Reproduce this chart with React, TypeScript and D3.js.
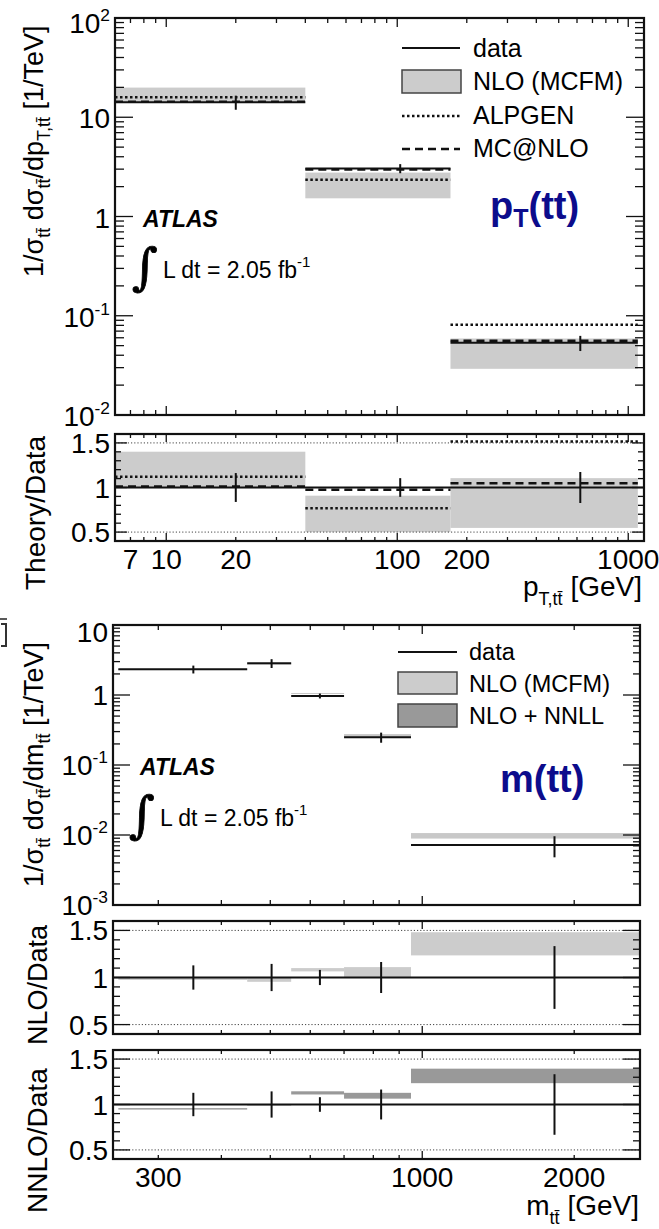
import * as d3 from 'd3';

const FONT = '"Liberation Sans", Arial, Helvetica, sans-serif';
const NAVY = '#0c0c8c';

// ---- p_T(tt) distribution ----
const ptEdges = [6, 40, 170, 1100];
const ptCenters = [20, 103, 620];
const ptData = [14.2, 3.05, 0.0534];
const ptDataErr = [2.3, 0.32, 0.0093];
const ptNloLo = [14.1, 1.525, 0.0292];
const ptNloHi = [19.9, 2.77, 0.059];
const ptAlpgen = [15.9, 2.34, 0.081];
const ptMcatnlo = [14.35, 2.97, 0.056];
const ptTickLabels = [7, 10, 20, 100, 200, 1000];

// ---- m(tt) distribution ----
const mEdges = [250, 450, 550, 700, 950, 2700];
const mCenters = [352, 503, 627, 829, 1828];
const mData = [2.33, 2.84, 0.97, 0.249, 0.0072];
const mDataErr = [0.3, 0.41, 0.078, 0.041, 0.0024];
const mNloLo = [2.27, 2.71, 1.033, 0.249, 0.00889];
const mNloHi = [2.33, 2.84, 1.067, 0.2765, 0.01066];
const mNnllLo = [2.2, 2.81, 1.077, 0.265, 0.00889];
const mNnllHi = [2.237, 2.84, 1.111, 0.281, 0.01004];
const mTickLabels = [300, 1000, 2000];

const ratioTickLabels = [0.5, 1, 1.5];

// scales
const ptX = d3.scaleLog().domain([6, 1170]).range([115, 644]);
const ptMainY = d3.scaleLog().domain([0.01, 100]).range([415, 18]);
const ptRatioY = d3.scaleLinear().domain([0.4, 1.6]).range([541, 434]);

const mX = d3.scaleLog().domain([244, 2700]).range([113, 640]);
const mMainY = d3.scaleLog().domain([0.001, 10]).range([905, 625]);
const mNloY = d3.scaleLinear().domain([0.4, 1.6]).range([1034, 921]);
const mNnloY = d3.scaleLinear().domain([0.4, 1.6]).range([1159, 1050]);

const isDecade = (v: number) => Math.abs(Math.log10(v) - Math.round(Math.log10(v))) < 1e-6;
const ratioTicks = d3.range(4, 17).map((i) => i / 10);
const isHalf = (v: number) => Math.abs(v * 2 - Math.round(v * 2)) < 1e-6;

const Frame = ({ x, y, xTicks, yTicks, xMajor, yMajor, xLen, yLen }: any) => {
  const [x0, x1] = x.range();
  const [y1, y0] = y.range();
  const xd = x.domain();
  const yd = y.domain();
  const inside = (v: number, d: number[]) => v > d[0] * 1.0001 && v < d[1] * 0.9999;
  return (
    <g stroke="#111" fill="none">
      {xTicks.filter((t: number) => inside(t, xd)).map((t: number, i: number) => {
        const L = xMajor(t) ? xLen[0] : xLen[1];
        const px = x(t);
        return (
          <g key={'x' + i} strokeWidth={1.3}>
            <line x1={px} x2={px} y1={y1} y2={y1 - L} />
            <line x1={px} x2={px} y1={y0} y2={y0 + L} />
          </g>
        );
      })}
      {yTicks.filter((t: number) => inside(t, yd)).map((t: number, i: number) => {
        const L = yMajor(t) ? yLen[0] : yLen[1];
        const py = y(t);
        return (
          <g key={'y' + i} strokeWidth={1.3}>
            <line x1={x0} x2={x0 + L} y1={py} y2={py} />
            <line x1={x1} x2={x1 - L} y1={py} y2={py} />
          </g>
        );
      })}
      <rect x={x0} y={y0} width={x1 - x0} height={y1 - y0} strokeWidth={2.2} />
    </g>
  );
};

const PowLabel = ({ v, x, y, size }: any) => {
  const e = Math.round(Math.log10(v));
  if (e === 0 || e === 1)
    return (
      <text x={x} y={y} textAnchor="end" fontSize={size}>
        {e === 0 ? '1' : '10'}
      </text>
    );
  return (
    <text x={x} y={y} textAnchor="end" fontSize={size}>
      10
      <tspan dy={-size * 0.42} fontSize={size * 0.62}>
        {e}
      </tspan>
    </text>
  );
};

const Bands = ({ x, y, edges, lo, hi, fill }: any) => (
  <g fill={fill} stroke="none">
    {lo.map((l: number, i: number) => {
      const xa = x(Math.max(edges[i], x.domain()[0]));
      const xb = x(Math.min(edges[i + 1], x.domain()[1]));
      const [d0, d1] = y.domain();
      const ya = y(Math.min(Math.max(hi[i], d0), d1));
      const yb = y(Math.min(Math.max(l, d0), d1));
      return <rect key={i} x={xa} y={ya} width={xb - xa} height={Math.max(yb - ya, 0)} />;
    })}
  </g>
);

const Steps = ({ x, y, edges, vals, dash, width }: any) => (
  <g stroke="#111" strokeWidth={width} strokeDasharray={dash}>
    {vals.map((v: number, i: number) => (
      <line key={i} x1={x(edges[i])} x2={x(Math.min(edges[i + 1], x.domain()[1]))} y1={y(v)} y2={y(v)} />
    ))}
  </g>
);

const ErrBars = ({ x, y, centers, vals, errs }: any) => (
  <g stroke="#111" strokeWidth={2}>
    {vals.map((v: number, i: number) => (
      <line key={i} x1={x(centers[i])} x2={x(centers[i])} y1={y(v - errs[i])} y2={y(v + errs[i])} />
    ))}
  </g>
);

const RefLines = ({ x, y }: any) => (
  <g stroke="#444" strokeWidth={1} strokeDasharray="1.2,2">
    {[0.5, 1.5].map((v) => (
      <line key={v} x1={x.range()[0]} x2={x.range()[1]} y1={y(v)} y2={y(v)} />
    ))}
  </g>
);

const RatioLabels = ({ y, xr }: any) => (
  <g>
    {ratioTickLabels.map((v) => (
      <text key={v} x={xr} y={y(v) + 10} textAnchor="end" fontSize={28}>
        {v}
      </text>
    ))}
  </g>
);

const Sub = ({ children, dy, size }: any) => (
  <tspan dy={dy} fontSize={size}>
    {children}
  </tspan>
);

// ATLAS label + luminosity, anchored at the ATLAS baseline
const AtlasLabel = ({ x, y }: any) => (
  <g>
    <text x={x} y={y} fontSize={23} fontWeight="bold" fontStyle="italic">ATLAS</text>
    <text
      x={x - 11}
      y={y + 57}
      fontSize={50}
      fontFamily='"DejaVu Serif", "Liberation Serif", serif'
      stroke="#000"
      strokeWidth={0.8}
    >
      ∫
    </text>
    <text x={x + 20} y={y + 51} fontSize={23}>
      L dt = 2.05 fb<tspan dy={-11} fontSize={15}>-1</tspan>
    </text>
  </g>
);

const App = () => {
  const ptLogTicks = ptX.ticks();
  const ptYTicks = ptMainY.ticks();
  const mLogTicks = mX.ticks();
  const mYTicks = mMainY.ticks();
  const ptRel = ptData.map((v, i) => ptDataErr[i] / v);
  const mRel = mData.map((v, i) => mDataErr[i] / v);
  const ones3 = ptData.map(() => 1);
  const ones5 = mData.map(() => 1);
  const TT = 't\u0074\u0304';

  return (
    <svg
      width={659}
      height={1229}
      style={{ position: 'absolute', left: 0, top: 0, background: '#fff' }}
      fontFamily={FONT}
    >
      <rect x={0} y={0} width={659} height={1229} fill="#fff" />

      {/* ================= p_T(tt) main ================= */}
      <Bands x={ptX} y={ptMainY} edges={ptEdges} lo={ptNloLo} hi={ptNloHi} fill="#cccccc" />
      <Steps x={ptX} y={ptMainY} edges={ptEdges} vals={ptAlpgen} dash="2.5,2.5" width={2.5} />
      <Steps x={ptX} y={ptMainY} edges={ptEdges} vals={ptMcatnlo} dash="8,5" width={2.5} />
      <Steps x={ptX} y={ptMainY} edges={ptEdges} vals={ptData} width={2} />
      <ErrBars x={ptX} y={ptMainY} centers={ptCenters} vals={ptData} errs={ptDataErr} />
      <Frame
        x={ptX}
        y={ptMainY}
        xTicks={ptLogTicks}
        yTicks={ptYTicks}
        xMajor={isDecade}
        yMajor={isDecade}
        xLen={[9, 5]}
        yLen={[18, 9]}
      />
      {ptYTicks.filter(isDecade).map((v) => (
        <PowLabel key={v} v={v} x={110} y={Math.max(ptMainY(v) + 11, 33)} size={28} />
      ))}

      {/* legend */}
      <line x1={402} x2={460} y1={48} y2={48} stroke="#111" strokeWidth={2} />
      <text x={473} y={57} fontSize={25}>data</text>
      <rect x={402} y={70} width={59} height={23} fill="#cccccc" stroke="#444" strokeWidth={1.5} />
      <text x={473} y={90} fontSize={25}>NLO (MCFM)</text>
      <line x1={402} x2={460} y1={116} y2={116} stroke="#111" strokeWidth={2.5} strokeDasharray="2.5,2.5" />
      <text x={473} y={124} fontSize={25}>ALPGEN</text>
      <line x1={402} x2={460} y1={149} y2={149} stroke="#111" strokeWidth={2.5} strokeDasharray="8,5" />
      <text x={473} y={157} fontSize={25}>MC@NLO</text>

      <text x={490} y={219} fontSize={38} fontWeight="bold" fill={NAVY}>
        p<Sub dy={8} size={25}>T</Sub>
        <tspan dy={-8}>(tt)</tspan>
      </text>

      <AtlasLabel x={143} y={227} />

      <text transform="translate(43,277) rotate(-90)" fontSize={27}>
        1/σ<Sub dy={7} size={18}>{TT}</Sub>
        <tspan dy={-7}> dσ</tspan>
        <Sub dy={7} size={18}>{TT}</Sub>
        <tspan dy={-7}>/dp</tspan>
        <Sub dy={7} size={18}>{'T,' + TT}</Sub>
        <tspan dy={-7}> [1/TeV]</tspan>
      </text>

      {/* ================= p_T(tt) ratio ================= */}
      <Bands
        x={ptX}
        y={ptRatioY}
        edges={ptEdges}
        lo={ptNloLo.map((v, i) => v / ptData[i])}
        hi={ptNloHi.map((v, i) => v / ptData[i])}
        fill="#cccccc"
      />
      <RefLines x={ptX} y={ptRatioY} />
      <Steps x={ptX} y={ptRatioY} edges={ptEdges} vals={ptAlpgen.map((v, i) => v / ptData[i])} dash="2.5,2.5" width={2.5} />
      <Steps x={ptX} y={ptRatioY} edges={ptEdges} vals={ptMcatnlo.map((v, i) => v / ptData[i])} dash="8,5" width={2.5} />
      <line x1={ptX.range()[0]} x2={ptX.range()[1]} y1={ptRatioY(1)} y2={ptRatioY(1)} stroke="#111" strokeWidth={2} />
      <ErrBars x={ptX} y={ptRatioY} centers={ptCenters} vals={ones3} errs={ptRel} />
      <Frame
        x={ptX}
        y={ptRatioY}
        xTicks={ptLogTicks}
        yTicks={ratioTicks}
        xMajor={isDecade}
        yMajor={isHalf}
        xLen={[8, 4]}
        yLen={[12, 6]}
      />
      <RatioLabels y={ptRatioY} xr={110} />
      {ptTickLabels.map((v) => (
        <text key={v} x={ptX(v)} y={569} textAnchor="middle" fontSize={28}>
          {v}
        </text>
      ))}
      <text x={642} y={596} textAnchor="end" fontSize={28}>
        p<Sub dy={9} size={18}>{'T,' + TT}</Sub>
        <tspan dy={-9}> [GeV]</tspan>
      </text>
      <text transform="translate(45,590) rotate(-90)" fontSize={28}>Theory/Data</text>

      {/* crop fragments at the left edge */}
      <line x1={0} x2={7} y1={619} y2={619} stroke="#222" strokeWidth={1.5} />
      <line x1={1} x2={7} y1={624} y2={624} stroke="#333" strokeWidth={2} />
      <line x1={6} x2={6} y1={624} y2={646} stroke="#333" strokeWidth={2} />
      <line x1={1} x2={7} y1={646} y2={646} stroke="#333" strokeWidth={2} />

      {/* ================= m(tt) main ================= */}
      <Bands x={mX} y={mMainY} edges={mEdges} lo={mNloLo} hi={mNloHi} fill="#c8c8c8" />
      <Steps x={mX} y={mMainY} edges={mEdges} vals={mData} width={2} />
      <ErrBars x={mX} y={mMainY} centers={mCenters} vals={mData} errs={mDataErr} />
      <Frame
        x={mX}
        y={mMainY}
        xTicks={mLogTicks}
        yTicks={mYTicks}
        xMajor={isDecade}
        yMajor={isDecade}
        xLen={[9, 5]}
        yLen={[17, 7]}
      />
      {mYTicks.filter(isDecade).map((v) => (
        <PowLabel key={v} v={v} x={108} y={Math.max(mMainY(v) + 10, 642)} size={28} />
      ))}

      <line x1={398} x2={457} y1={652} y2={652} stroke="#111" strokeWidth={2} />
      <text x={469} y={660} fontSize={23.5}>data</text>
      <rect x={398} y={672} width={59} height={22} fill="#cccccc" stroke="#444" strokeWidth={1.5} />
      <text x={469} y={692} fontSize={23.5}>NLO (MCFM)</text>
      <rect x={398} y={704} width={59} height={23} fill="#999999" stroke="#444" strokeWidth={1.5} />
      <text x={469} y={724} fontSize={23.5}>NLO + NNLL</text>

      <text x={500} y={792} fontSize={38} fontWeight="bold" fill={NAVY}>m(tt)</text>

      <AtlasLabel x={140} y={775} />

      <text transform="translate(43,887) rotate(-90)" fontSize={27}>
        1/σ<Sub dy={7} size={18}>{TT}</Sub>
        <tspan dy={-7}> dσ</tspan>
        <Sub dy={7} size={18}>{TT}</Sub>
        <tspan dy={-7}>/dm</tspan>
        <Sub dy={7} size={18}>{TT}</Sub>
        <tspan dy={-7}> [1/TeV]</tspan>
      </text>

      {/* ================= m(tt) NLO ratio ================= */}
      <Bands
        x={mX}
        y={mNloY}
        edges={mEdges}
        lo={mNloLo.map((v, i) => v / mData[i])}
        hi={mNloHi.map((v, i) => v / mData[i])}
        fill="#cccccc"
      />
      <RefLines x={mX} y={mNloY} />
      <line x1={mX.range()[0]} x2={mX.range()[1]} y1={mNloY(1)} y2={mNloY(1)} stroke="#111" strokeWidth={2} />
      <ErrBars x={mX} y={mNloY} centers={mCenters} vals={ones5} errs={mRel} />
      <Frame
        x={mX}
        y={mNloY}
        xTicks={mLogTicks}
        yTicks={ratioTicks}
        xMajor={isDecade}
        yMajor={isHalf}
        xLen={[8, 4]}
        yLen={[17, 7]}
      />
      <RatioLabels y={mNloY} xr={108} />
      <text transform="translate(47,1045) rotate(-90)" fontSize={27}>NLO/Data</text>

      {/* ================= m(tt) NNLO ratio ================= */}
      <Bands
        x={mX}
        y={mNnloY}
        edges={mEdges}
        lo={mNnllLo.map((v, i) => v / mData[i])}
        hi={mNnllHi.map((v, i) => v / mData[i])}
        fill="#999999"
      />
      <RefLines x={mX} y={mNnloY} />
      <line x1={mX.range()[0]} x2={mX.range()[1]} y1={mNnloY(1)} y2={mNnloY(1)} stroke="#111" strokeWidth={2} />
      <ErrBars x={mX} y={mNnloY} centers={mCenters} vals={ones5} errs={mRel} />
      <Frame
        x={mX}
        y={mNnloY}
        xTicks={mLogTicks}
        yTicks={ratioTicks}
        xMajor={isDecade}
        yMajor={isHalf}
        xLen={[8, 4]}
        yLen={[17, 7]}
      />
      <RatioLabels y={mNnloY} xr={108} />
      <text transform="translate(47,1213) rotate(-90)" fontSize={28}>NNLO/Data</text>

      {mTickLabels.map((v) => (
        <text key={v} x={mX(v)} y={1187} textAnchor="middle" fontSize={28}>
          {v}
        </text>
      ))}
      <text x={639} y={1215} textAnchor="end" fontSize={28}>
        m<Sub dy={9} size={18}>{TT}</Sub>
        <tspan dy={-9}> [GeV]</tspan>
      </text>
    </svg>
  );
};

export default App;
